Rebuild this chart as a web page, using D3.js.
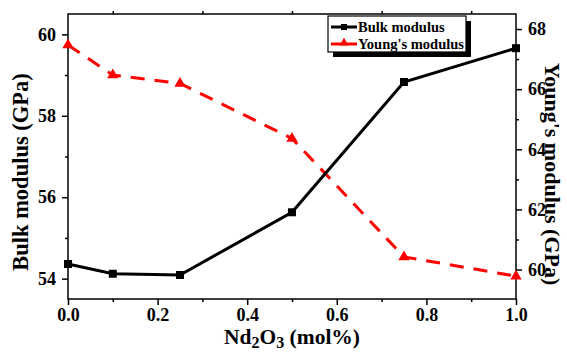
<!DOCTYPE html>
<html>
<head>
<meta charset="utf-8">
<script src="https://cdn.jsdelivr.net/npm/d3@7"></script>
<style>
  body { margin: 0; background: #fff; }
</style>
</head>
<body>
<div id="viz"></div>
<script>
var xValues = [0, 0.1, 0.25, 0.5, 0.75, 1.0];
var bulk = [54.36, 54.12, 54.09, 55.63, 58.83, 59.66];
var young = [67.47, 66.47, 66.19, 64.36, 60.42, 59.78];
var xTicks = [0, 0.2, 0.4, 0.6, 0.8, 1.0];
var leftTicks = [54, 56, 58, 60];
var rightTicks = [60, 62, 64, 66, 68];

var width = 567, height = 354;
var m = {left: 68, right: 51, top: 14, bottom: 55};
var serif = "'Liberation Serif'";

var svg = d3.select("#viz").append("svg")
    .attr("width", width)
    .attr("height", height);

var x = d3.scaleLinear().domain([0, 1]).range([m.left, width - m.right]);
var yL = d3.scaleLinear().domain([53.5, 60.5]).range([height - m.bottom, m.top]);
var yR = d3.scaleLinear().domain([59.02, 68.5]).range([height - m.bottom, m.top]);

// axes
svg.append("g").attr("class", "ax")
    .attr("transform", "translate(0," + (height - m.bottom) + ")")
    .call(d3.axisBottom(x).tickValues(xTicks).tickFormat(d3.format(".1f")).tickSize(6).tickPadding(3));
svg.append("g").attr("class", "ax")
    .attr("transform", "translate(0," + (height - m.bottom) + ")")
    .call(d3.axisBottom(x).tickValues([0.1, 0.3, 0.5, 0.7, 0.9]).tickSize(3).tickFormat(""));
svg.append("g").attr("class", "ax")
    .attr("transform", "translate(0," + m.top + ")")
    .call(d3.axisTop(x).tickValues([0.1, 0.3, 0.5, 0.7, 0.9]).tickSize(3).tickFormat(""));

svg.append("g").attr("class", "ax")
    .attr("transform", "translate(" + m.left + ",0)")
    .call(d3.axisLeft(yL).tickValues(leftTicks).tickFormat(d3.format("d")).tickSize(6).tickPadding(6));
svg.append("g").attr("class", "ax")
    .attr("transform", "translate(" + m.left + ",0)")
    .call(d3.axisLeft(yL).tickValues([55, 57, 59]).tickSize(3).tickFormat(""));

svg.append("g").attr("class", "ax")
    .attr("transform", "translate(" + (width - m.right) + ",0)")
    .call(d3.axisRight(yR).tickValues(rightTicks).tickFormat(d3.format("d")).tickSize(6).tickPadding(6));
svg.append("g").attr("class", "ax")
    .attr("transform", "translate(" + (width - m.right) + ",0)")
    .call(d3.axisRight(yR).tickValues([61, 63, 65, 67]).tickSize(3).tickFormat(""));

svg.selectAll(".ax path").remove();
svg.selectAll(".ax line").attr("stroke", "#000").attr("stroke-width", 1.5);
svg.selectAll(".ax text")
    .attr("fill", "#000")
    .style("font-family", serif)
    .style("font-weight", "bold")
    .style("font-size", "18px");

// frame
svg.append("rect")
    .attr("x", m.left).attr("y", m.top)
    .attr("width", width - m.left - m.right)
    .attr("height", height - m.top - m.bottom)
    .attr("fill", "none").attr("stroke", "#000").attr("stroke-width", 1.5);

// Young's modulus (dashed red)
var ptsY = xValues.map(function(d, i) { return [d, young[i]]; });
svg.append("path")
    .datum(ptsY)
    .attr("fill", "none")
    .attr("stroke", "#ff0000")
    .attr("stroke-width", 3)
    .attr("stroke-dasharray", "14,10")
    .attr("d", d3.line().x(function(d) { return x(d[0]); }).y(function(d) { return yR(d[1]); }));
svg.selectAll(".tri")
    .data(ptsY)
    .enter().append("path")
    .attr("class", "tri")
    .attr("fill", "#ff0000")
    .attr("transform", function(d) { return "translate(" + x(d[0]) + "," + yR(d[1]) + ")"; })
    .attr("d", d3.symbol().type(d3.symbolTriangle).size(55));

// Bulk modulus (solid black)
var ptsB = xValues.map(function(d, i) { return [d, bulk[i]]; });
svg.append("path")
    .datum(ptsB)
    .attr("fill", "none")
    .attr("stroke", "#000")
    .attr("stroke-width", 3)
    .attr("d", d3.line().x(function(d) { return x(d[0]); }).y(function(d) { return yL(d[1]); }));
svg.selectAll(".sq")
    .data(ptsB)
    .enter().append("rect")
    .attr("class", "sq")
    .attr("x", function(d) { return x(d[0]) - 4; })
    .attr("y", function(d) { return yL(d[1]) - 4; })
    .attr("width", 8).attr("height", 8)
    .attr("fill", "#000");

// axis titles
function title(sel, size) {
  return sel.style("font-family", serif).style("font-weight", "bold").style("font-size", size + "px");
}
title(svg.append("text"), 22.5)
    .attr("transform", "translate(28,172) rotate(-90)")
    .attr("text-anchor", "middle")
    .text("Bulk modulus (GPa)");
title(svg.append("text"), 22)
    .attr("transform", "translate(545,174) rotate(90)")
    .attr("text-anchor", "middle")
    .text("Young's modulus (GPa)");
var xt = title(svg.append("text"), 21.5)
    .attr("x", (m.left + width - m.right) / 2)
    .attr("y", 344)
    .attr("text-anchor", "middle");
xt.append("tspan").text("Nd");
xt.append("tspan").attr("dy", 4).style("font-size", "16px").text("2");
xt.append("tspan").attr("dy", -4).text("O");
xt.append("tspan").attr("dy", 4).style("font-size", "16px").text("3");
xt.append("tspan").attr("dy", -4).text(" (mol%)");

// legend
var lg = svg.append("g").attr("transform", "translate(328,16)");
lg.append("rect").attr("x", 5).attr("y", 5).attr("width", 138).attr("height", 36).attr("fill", "#000");
lg.append("rect").attr("x", 0).attr("y", 0).attr("width", 138).attr("height", 36)
    .attr("fill", "#fff").attr("stroke", "#000").attr("stroke-width", 1.2);
var legItems = [
  {label: "Bulk modulus", color: "#000", shape: "sq"},
  {label: "Young's modulus", color: "#ff0000", shape: "tri"}
];
legItems.forEach(function(it, i) {
  var cy = 11 + i * 17;
  lg.append("line").attr("x1", 3).attr("x2", 29).attr("y1", cy).attr("y2", cy)
      .attr("stroke", it.color).attr("stroke-width", 3);
  if (it.shape === "sq") {
    lg.append("rect").attr("x", 13).attr("y", cy - 3).attr("width", 6).attr("height", 6).attr("fill", it.color);
  } else {
    lg.append("path").attr("transform", "translate(16," + (cy - 1) + ")")
        .attr("d", d3.symbol().type(d3.symbolTriangle).size(35)).attr("fill", it.color);
  }
  title(lg.append("text"), 14.5).attr("x", 30).attr("y", cy + 5).text(it.label);
});
</script>
</body>
</html>
